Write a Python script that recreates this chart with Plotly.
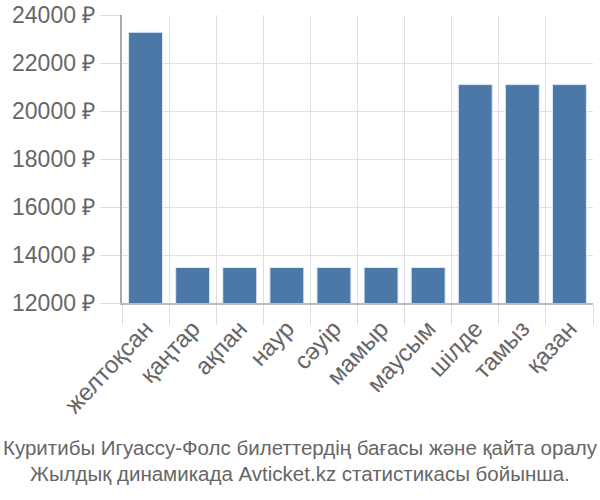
import plotly.graph_objects as go

months = ["желтоқсан", "қаңтар", "ақпан", "наур", "сәуір", "мамыр", "маусым", "шілде", "тамыз", "қазан"]
prices = [23280, 13480, 13480, 13480, 13480, 13480, 13480, 21100, 21100, 21100]
title_lines = ["Куритибы Игуассу-Фолс билеттердің бағасы және қайта оралу",
               "Жылдық динамикада Avticket.kz статистикасы бойынша."]

W, H = 600, 500
L, R, T, B = 122, 7, 15, 197

fig = go.Figure(go.Bar(
    x=months, y=prices,
    marker=dict(color="#4c78a8", line=dict(color="#dfe8f2", width=1)),
))

fig.update_layout(
    width=W, height=H,
    margin=dict(l=L, r=R, t=T, b=B, autoexpand=False),
    paper_bgcolor="white", plot_bgcolor="white",
    font=dict(family="Liberation Sans, Arial, sans-serif", color="#666666"),
    bargap=0.28,
    showlegend=False,
)

plot_h = H - T - B
plot_w = W - L - R
def py(ypix):
    return (H - B - ypix) / plot_h

for i, line in enumerate(title_lines):
    fig.add_annotation(text=line, xref="paper", yref="paper",
                       x=(300 - L) / plot_w, y=py(447 + 26 * i),
                       xanchor="center", yanchor="middle", showarrow=False,
                       font=dict(size=20.5, color="#666666"))

fig.update_xaxes(
    type="category", tickson="boundaries", tickangle=-47, automargin=False,
    showgrid=True, gridcolor="#e0e0e0", gridwidth=1,
    ticks="outside", ticklen=20, tickcolor="#dddddd", tickwidth=1,
    showline=True, linecolor="#bbbbbb", linewidth=2,
    tickfont=dict(size=24, color="#666666"),
)
fig.update_yaxes(
    range=[12000, 24000], dtick=2000, tickformat="d", ticksuffix=" ₽", automargin=False,
    showgrid=True, gridcolor="#e0e0e0", gridwidth=1,
    ticks="outside", ticklen=20, tickcolor="#dddddd", tickwidth=1,
    showline=True, linecolor="#aaaaaa", linewidth=2,
    tickfont=dict(size=23, color="#666666"), zeroline=False,
)

fig.write_html("out.html", config={"displayModeBar": False},
               post_script="document.body.style.margin='0';document.body.style.padding='0';")
